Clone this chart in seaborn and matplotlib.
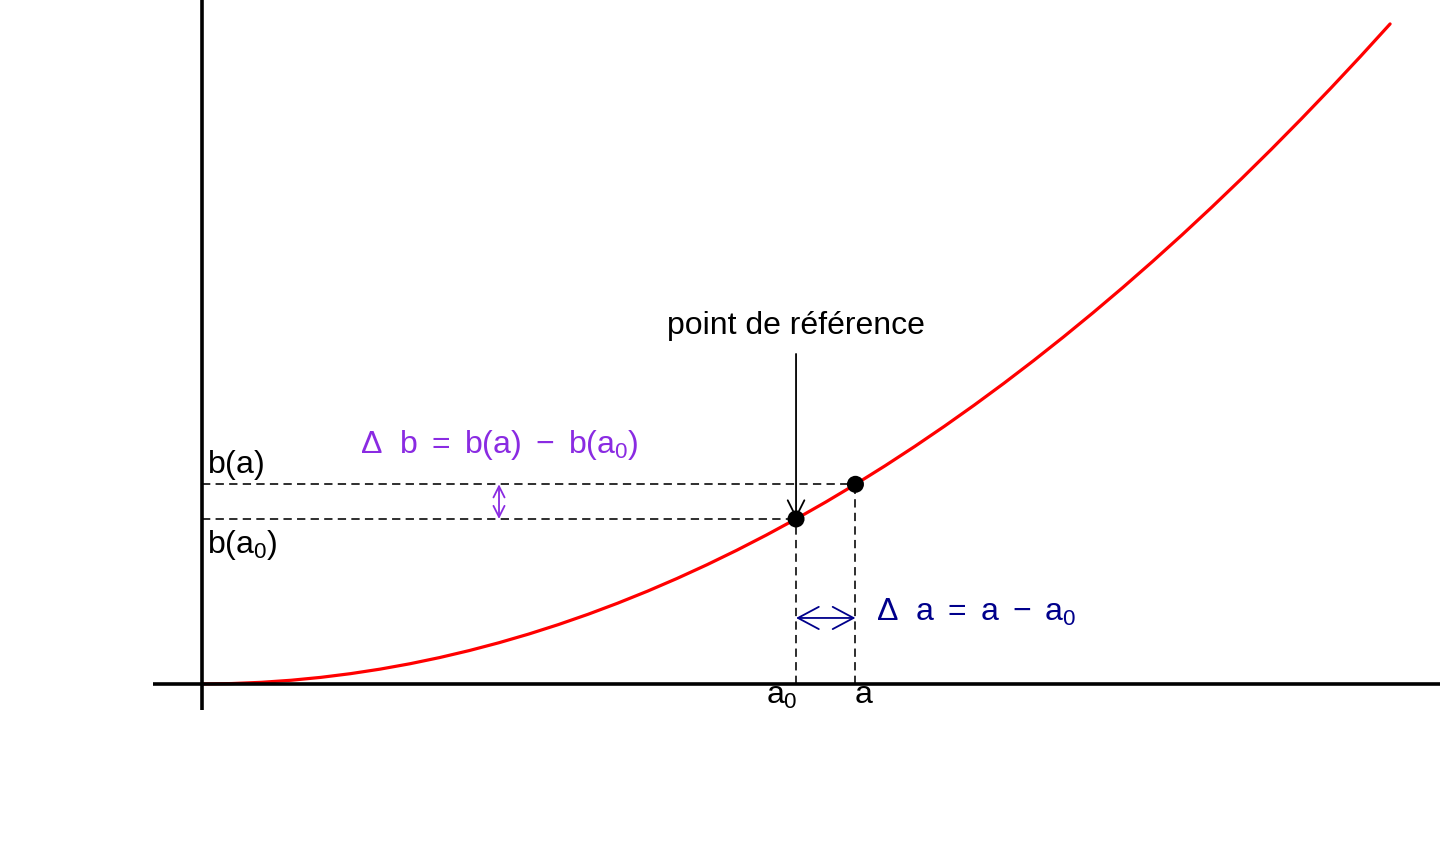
import numpy as np
import pandas as pd
import matplotlib.pyplot as plt
import seaborn as sns

# curve b(a), values
curve_a = [0.00, 0.05, 0.10, 0.15, 0.20, 0.25, 0.30, 0.35, 0.40, 0.45,
           0.50, 0.55, 0.60, 0.65, 0.70, 0.75, 0.80, 0.85, 0.90, 0.95,
           1.00, 1.05, 1.10, 1.15, 1.20, 1.25, 1.30, 1.35, 1.40, 1.45,
           1.50, 1.55, 1.60, 1.65, 1.70, 1.75, 1.80, 1.85, 1.90, 1.95, 2.00]
curve_b = [0.0000, 0.0025, 0.0100, 0.0225, 0.0400, 0.0625, 0.0900, 0.1225,
           0.1600, 0.2025, 0.2500, 0.3025, 0.3600, 0.4225, 0.4900, 0.5625,
           0.6400, 0.7225, 0.8100, 0.9025, 1.0000, 1.1025, 1.2100, 1.3225,
           1.4400, 1.5625, 1.6900, 1.8225, 1.9600, 2.1025, 2.2500, 2.4025,
           2.5600, 2.7225, 2.8900, 3.0625, 3.2400, 3.4225, 3.6100, 3.8025,
           4.0000]

# reference point a0 and neighbour a
point_names = ['a0', 'a']
point_a = [1.0, 1.1]
point_b = [1.0, 1.21]

sns.set_theme(style='white')
plt.rcParams['font.family'] = ['Liberation Sans', 'DejaVu Sans']
plt.rcParams['text.color'] = 'black'
plt.rcParams['mathtext.fontset'] = 'custom'
plt.rcParams['mathtext.rm'] = 'Liberation Sans'
plt.rcParams['mathtext.it'] = 'Liberation Sans'

fig = plt.figure(figsize=(14.4, 8.64), dpi=100)
ax = fig.add_axes([0, 0, 1, 1])
ax.set_xlim(-0.340, 2.084)
ax.set_ylim(-1.091, 4.145)
ax.axis('off')

df = pd.DataFrame({'a': curve_a, 'b': curve_b})
sns.lineplot(data=df, x='a', y='b', color='red', lw=2.3, ax=ax, zorder=3)

# axes lines
ax.plot([-0.083, 2.084], [0, 0], color='black', lw=2.6, zorder=4, solid_capstyle='butt')
ax.plot([0, 0], [-0.158, 4.145], color='black', lw=2.6, zorder=4, solid_capstyle='butt')

# dashed guides
dash = (5.2, 3.3)
for xa, yb in zip(point_a, point_b):
    ax.plot([0, xa], [yb, yb], color='black', lw=1.15, ls=(0, dash), zorder=2)
    ax.plot([xa, xa], [0, yb], color='black', lw=1.15, ls=(0, dash), zorder=2)

pts = pd.DataFrame({'a': point_a, 'b': point_b, 'name': point_names})
sns.scatterplot(data=pts, x='a', y='b', color='black', s=150, ax=ax,
                zorder=6, edgecolor='none')

fs = 23

# reference arrow
ax.annotate('', xy=(point_a[0], point_b[0]), xytext=(point_a[0], 2.0),
            arrowprops=dict(arrowstyle='->,head_length=0.6,head_width=0.3',
                            lw=1.3, color='black', shrinkA=0, shrinkB=0,
                            mutation_scale=20), zorder=5)
ax.text(point_a[0], 2.17, 'point de référence', ha='center', va='center',
        fontsize=fs, color='black')

# delta b
purple = '#8a2be2'
ax.annotate('', xy=(0.5, point_b[1]), xytext=(0.5, point_b[0]),
            arrowprops=dict(arrowstyle='<->,head_length=0.4,head_width=0.2',
                            lw=1.3, color=purple, shrinkA=0, shrinkB=0,
                            mutation_scale=20))
ax.text(0.5, 1.45, r'$\Delta\ \ b\ =\ b(a)\ -\ b(a_0)$',
        ha='center', va='center', fontsize=fs, color=purple)

# delta a
navy = '#00008b'
ax.annotate('', xy=(point_a[1], 0.4), xytext=(point_a[0], 0.4),
            arrowprops=dict(arrowstyle='<->,head_length=0.75,head_width=0.4',
                            lw=1.3, color=navy, shrinkA=0, shrinkB=0,
                            mutation_scale=20))
ax.text(1.135, 0.436, r'$\Delta\ \ a\ =\ a\ -\ a_0$', ha='left', va='center',
        fontsize=fs, color=navy)

# labels for the points
ax.text(0.008, 1.327, r'$b(a)$', ha='left', va='center', fontsize=fs)
ax.text(0.008, 0.842, r'$b(a_0)$', ha='left', va='center', fontsize=fs)
ax.text(0.976, -0.072, r'$a_0$', ha='center', va='center', fontsize=fs)
ax.text(1.114, -0.067, r'$a$', ha='center', va='center', fontsize=fs)

plt.savefig('out.png', dpi=100)
plt.close()
